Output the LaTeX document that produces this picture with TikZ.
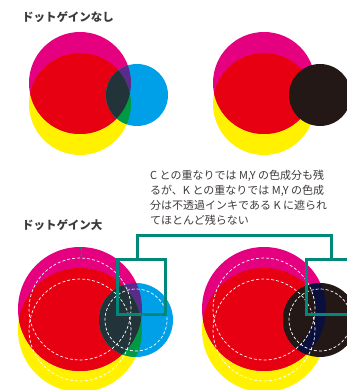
\documentclass[tikz,border=0pt]{standalone}
\usepackage{fontspec}
\newfontfamily\jp{Noto Sans CJK JP}
\usetikzlibrary{arrows.meta}
\definecolor{inkM}{HTML}{E4007F}
\definecolor{inkY}{HTML}{FFF100}
\definecolor{inkC}{HTML}{00A0E9}
\definecolor{inkK}{HTML}{231815}
\definecolor{inkR}{HTML}{E60012}
\definecolor{inkCM}{HTML}{5B2B8C}
\definecolor{inkCY}{HTML}{009944}
\definecolor{inkCMY}{HTML}{22333A}
\definecolor{inkNavy}{HTML}{0A0F3C}
\definecolor{frameteal}{HTML}{00897B}
\definecolor{txt}{HTML}{3E3A39}

\begin{document}
\begin{tikzpicture}[x=1pt, y=-1pt,
    head/.style = {anchor=base west, inner sep=0, text=txt, font=\jp\bfseries\fontsize{11.5}{12}\selectfont},
    note/.style = {anchor=base west, inner sep=0, align=left, text=txt, font=\jp\fontsize{11}{15}\selectfont},
    frame/.style = {draw=frameteal, line width=3pt, minimum width=48pt, minimum height=55pt, inner sep=0},
    orig/.style = {draw=white, line width=0.7pt, dash pattern=on 3pt off 2pt}]
\useasboundingbox (0,0) rectangle (346,390);

% headings and note
\node[head] (nogain) at (22,21.5) {ドットゲインなし};
\node[head] (biggain) at (22,229.5) {ドットゲイン大};
\node[note] (remark) at (150,224) {C との重なりでは M,Y の色成分も残\\るが、K との重なりでは M,Y の色成\\分は不透過インキである K に遮られ\\てほとんど残らない};

% no dot gain, with C
\fill[inkY] (80,104) circle (51pt);
\fill[inkM] (80,83) circle (51pt);
\begin{scope}
  \clip (80,83) circle (51pt);
  \fill[inkR] (80,104) circle (51pt);
\end{scope}
\fill[inkC] (137,95) circle (31pt);
\begin{scope}
  \clip (137,95) circle (31pt);
  \fill[inkCM] (80,83) circle (51pt);
  \fill[inkCY] (80,104) circle (51pt);
  \clip (80,83) circle (51pt);
  \fill[inkCMY] (80,104) circle (51pt);
\end{scope}

% no dot gain, with K
\fill[inkY] (264,104) circle (51pt);
\fill[inkM] (264,83) circle (51pt);
\begin{scope}
  \clip (264,83) circle (51pt);
  \fill[inkR] (264,104) circle (51pt);
\end{scope}
\fill[inkK] (320,95) circle (31pt);

% big dot gain, with C
\fill[inkY] (80,330) circle (62pt);
\fill[inkM] (80,309) circle (62pt);
\begin{scope}
  \clip (80,309) circle (62pt);
  \fill[inkR] (80,330) circle (62pt);
\end{scope}
\fill[inkC] (136,320) circle (37pt);
\begin{scope}
  \clip (136,320) circle (37pt);
  \fill[inkCM] (80,309) circle (62pt);
  \fill[inkCY] (80,330) circle (62pt);
  \clip (80,309) circle (62pt);
  \fill[inkCMY] (80,330) circle (62pt);
\end{scope}
\draw[orig] (80,309) circle (51pt);
\draw[orig] (80,330) circle (51pt);
\draw[orig] (136,320) circle (31pt);
\coordinate (gaintop) at (81,247);
\coordinate (origtop) at (81,257);
\draw[<->, >={Stealth[length=2.5pt,width=3pt]}, frameteal, line width=0.9pt] (gaintop) -- (origtop);

% big dot gain, with K
\fill[inkY] (264,330) circle (62pt);
\fill[inkM] (264,309) circle (62pt);
\begin{scope}
  \clip (264,309) circle (62pt);
  \fill[inkR] (264,330) circle (62pt);
\end{scope}
\fill[inkK] (320,320) circle (37pt);
\begin{scope}
  \clip (320,320) circle (37pt);
  \clip (264,309) circle (62pt);
  \fill[inkNavy] (320,320) circle (37pt);
  \fill[inkK] (264,309) circle (51pt);
\end{scope}
\draw[orig] (264,309) circle (51pt);
\draw[orig] (264,330) circle (51pt);
\draw[orig] (320,320) circle (31pt);

% frames
\node[frame] (lbox) at (141,287) {};
\node[frame] (rbox) at (330,287) {};
\draw[frameteal, line width=3pt] ([xshift=-4pt]lbox.north) -- ++(0,-23) -| ([xshift=1pt]rbox.north);
\end{tikzpicture}
\end{document}
